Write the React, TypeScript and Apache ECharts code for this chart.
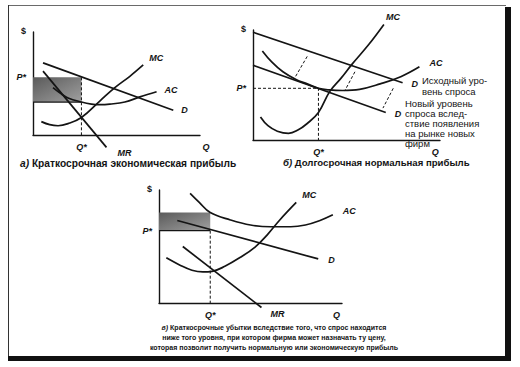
import React, { useEffect, useRef } from "react";
import * as echarts from "echarts";

// ---------- Panel а: short-run economic profit ----------
const aDemand = [[0.6, 7.0], [8.4, 2.4]];
const aMR = [[0.6, 6.2], [4.4, -1.2]];
const aMC = [[0.5, 1.3], [1.0, 1.0], [1.5, 0.9], [2.1, 1.1], [2.9, 1.7], [4.0, 3.3], [4.9, 4.6], [5.8, 5.7], [6.6, 6.8]];
const aAC = [[1.2, 4.6], [1.6, 4.1], [2.1, 3.6], [2.9, 3.2], [3.5, 3.0], [4.0, 2.95], [4.6, 3.0], [5.5, 3.2], [6.4, 3.7], [7.4, 4.2]];
const aPStar = 5.6;
const aQStar = 2.9;
const aACatQ = 3.2;

// ---------- Panel б: long-run normal profit ----------
const bDemandOld = [[0, 9.8], [8.0, 5.2]];
const bDemandNew = [[0, 6.8], [7.1, 2.5]];
const bMC = [[0.4, 2.1], [0.8, 1.3], [1.3, 0.8], [1.9, 0.6], [2.4, 0.9], [2.9, 1.5], [3.5, 2.5], [4.1, 4.4], [4.7, 5.6], [5.3, 6.9], [6.2, 8.7], [7.0, 10.5]];
const bAC = [[0.5, 8.1], [1.0, 7.1], [1.6, 6.2], [2.3, 5.5], [2.9, 5.1], [3.5, 4.7], [4.1, 4.55], [4.8, 4.5], [5.7, 4.6], [6.8, 5.1], [7.9, 5.75], [8.9, 6.65]];
const bShifts = [
  [[2.9, 7.6], [2.25, 5.7]],
  [[5.45, 6.2], [4.9, 4.45]],
  [[7.5, 4.7], [6.95, 2.9]],
];
const bPStar = 4.7;
const bQStar = 3.5;

// ---------- Panel в: short-run losses ----------
const cDemand = [[1.0, 7.3], [8.7, 3.9]];
const cMR = [[1.3, 5.0], [5.6, -0.4]];
const cMC = [[0.4, 4.0], [1.15, 3.35], [1.8, 2.9], [2.4, 2.75], [2.9, 2.8], [3.6, 3.25], [4.4, 4.0], [5.25, 4.95], [5.95, 6.1], [6.6, 7.35], [7.5, 8.9]];
const cAC = [[1.7, 9.7], [2.2, 8.9], [2.8, 8.0], [3.9, 7.35], [5.0, 6.9], [6.1, 6.75], [7.2, 6.75], [8.0, 6.9], [8.8, 7.3], [9.5, 7.8]];
const cPStar = 6.4;
const cQStar = 2.8;
const cACatQ = 8.0;

// position of the "Q" axis title on each quantity axis
const qTitleAt = [10, 9.75, 9.7];

const captionA = "Краткосрочная экономическая прибыль";
const captionB = "Долгосрочная нормальная прибыль";
const captionC = [
  "Краткосрочные убытки вследствие того, что спрос находится",
  "ниже того уровня, при котором фирма может назначать ту цену,",
  "которая позволит получить нормальную или экономическую прибыль",
];
const noteOld = ["Исходный уро-", "вень спроса"];
const noteNew = ["Новый уровень", "спроса вслед-", "ствие появления", "на рынке новых", "фирм"];

const FONT = '"Liberation Sans", Arial, sans-serif';
const INK = "#141414";

const labelStyle = {
  fontFamily: FONT,
  fontSize: 9,
  fontStyle: "italic" as const,
  fontWeight: "bold" as const,
  color: INK,
};

function curve(grid: number, data: number[][], name: string, offset: number[], smooth = 0.4, width = 1.7) {
  return {
    type: "line",
    xAxisIndex: grid,
    yAxisIndex: grid,
    data,
    smooth,
    symbol: "none",
    clip: false,
    lineStyle: { color: INK, width },
    endLabel: { show: true, formatter: name, offset, ...labelStyle },
    silent: true,
  };
}

function plain(grid: number, data: number[][], dashed: boolean, width = 1) {
  return {
    type: "line",
    xAxisIndex: grid,
    yAxisIndex: grid,
    data,
    symbol: "none",
    clip: false,
    lineStyle: { color: INK, width, type: dashed ? [3, 2] : "solid" },
    silent: true,
  };
}

function axes(grid: number, pStar: number, qStar: number) {
  const qAt = qTitleAt[grid];
  const x = {
    gridIndex: grid,
    type: "value",
    min: 0,
    max: 10,
    axisLine: { show: true, onZero: false, lineStyle: { color: INK, width: 1.4 } },
    axisTick: { show: false },
    splitLine: { show: false },
    axisLabel: {
      customValues: [qStar, qAt],
      margin: 7,
      formatter: (v: number) => (v === qAt ? (qAt === 10 ? "{q|Q}" : "{s|Q}") : "{s|Q*}"),
      rich: {
        q: { ...labelStyle, padding: [0, 0, 0, 12] },
        s: { ...labelStyle },
      },
    },
  };
  const y = {
    gridIndex: grid,
    type: "value",
    min: 0,
    max: 10,
    axisLine: { show: true, onZero: false, lineStyle: { color: INK, width: 1.4 } },
    axisTick: { show: false },
    splitLine: { show: false },
    axisLabel: {
      customValues: [pStar, 10],
      margin: 7,
      formatter: (v: number) => (v === 10 ? "{d|$}" : "{s|P*}"),
      rich: {
        d: { fontFamily: FONT, fontSize: 9, fontWeight: "bold", color: INK, padding: [0, 0, 2, 0] },
        s: { ...labelStyle },
      },
    },
  };
  return { x, y };
}

function shade(grid: number, q: number, y1: number, y2: number) {
  return {
    type: "line",
    xAxisIndex: grid,
    yAxisIndex: grid,
    data: [],
    silent: true,
    markArea: {
      silent: true,
      itemStyle: {
        color: new echarts.graphic.LinearGradient(0, 0, 1, 1, [
          { offset: 0, color: "#5a5a5a" },
          { offset: 1, color: "#a0a0a0" },
        ]),
      },
      data: [[{ coord: [0, y1] }, { coord: [q, y2] }]],
    },
  };
}

function textEl(x: number, y: number, text: string, size: number, weight = "normal", lineHeight?: number, align = "left") {
  return {
    type: "text",
    x,
    y,
    silent: true,
    style: {
      text,
      align,
      fontFamily: FONT,
      fontSize: size,
      fontWeight: weight,
      fill: INK,
      lineHeight: lineHeight || size + 2,
      rich: { i: { fontFamily: FONT, fontSize: size, fontStyle: "italic", fontWeight: weight, fill: INK } },
    },
  };
}

export default function App() {
  const ref = useRef<HTMLDivElement>(null);
  useEffect(() => {
    if (!ref.current) return;
    const chart = echarts.init(ref.current, null, { renderer: "svg" });
    const A = axes(0, aPStar, aQStar);
    const B = axes(1, bPStar, bQStar);
    const C = axes(2, cPStar, cQStar);
    chart.setOption({
      animation: false,
      backgroundColor: "#ffffff",
      grid: [
        { left: 33, top: 32, width: 167, height: 103, outerBoundsMode: "none" },
        { left: 253, top: 30, width: 187, height: 110, outerBoundsMode: "none" },
        { left: 159, top: 190, width: 183, height: 113, outerBoundsMode: "none" },
      ],
      xAxis: [A.x, B.x, C.x],
      yAxis: [A.y, B.y, C.y],
      series: [
        shade(0, aQStar, aPStar, aACatQ),
        plain(0, [[aQStar, aPStar], [aQStar, 0]], true),
        plain(0, [[0, aACatQ], [aQStar, aACatQ]], false, 1.3),
        curve(0, aDemand, "D", [0, 0], 0),
        curve(0, aMR, "MR", [3, 6], 0),
        curve(0, aMC, "MC", [-2, -7]),
        curve(0, aAC, "AC", [0, -2]),

        plain(1, [[0, bPStar], [bQStar, bPStar], [bQStar, 0]], true),
        ...bShifts.map((s) => plain(1, s, true)),
        curve(1, bDemandOld, "D", [1, 1], 0),
        curve(1, bDemandNew, "D", [1, 1], 0),
        curve(1, bMC, "MC", [-6, -8]),
        curve(1, bAC, "AC", [2, -4]),

        shade(2, cQStar, cACatQ, cPStar),
        plain(2, [[cQStar, cPStar], [cQStar, 0]], true),
        plain(2, [[0, cPStar], [cQStar, cPStar]], false, 1.3),
        curve(2, cDemand, "D", [2, 1], 0),
        curve(2, cMR, "MR", [1, 6], 0),
        curve(2, cMC, "MC", [-2, -7]),
        curve(2, cAC, "AC", [2, -4]),
      ],
      graphic: [
        { type: "rect", silent: true, shape: { x: 8, y: 5, width: 498, height: 1 }, style: { fill: "#6a6a6a" } },
        { type: "rect", silent: true, shape: { x: 8, y: 5, width: 1, height: 353 }, style: { fill: "#333" } },
        { type: "rect", silent: true, shape: { x: 505, y: 7, width: 6, height: 354 }, style: { fill: "#111" } },
        { type: "rect", silent: true, shape: { x: 8, y: 356, width: 503, height: 5 }, style: { fill: "#111" } },
        textEl(20, 157, "{i|а)} " + captionA, 10.2, "bold"),
        textEl(283, 157, "{i|б)} " + captionB, 9.6, "bold"),
        textEl(274, 322, "{i|в)} " + captionC[0], 7, "bold", 10, "center"),
        textEl(274, 332, captionC[1], 7, "bold", 10, "center"),
        textEl(274, 342, captionC[2], 7, "bold", 10, "center"),
        textEl(422, 75, noteOld.join("\n"), 9.5, "normal", 11),
        textEl(405, 98, noteNew.join("\n"), 9.5, "normal", 10),
      ],
    });
    return () => chart.dispose();
  }, []);
  return <div ref={ref} style={{ position: "fixed", left: 0, top: 0, width: 520, height: 367, background: "#fff" }} />;
}
